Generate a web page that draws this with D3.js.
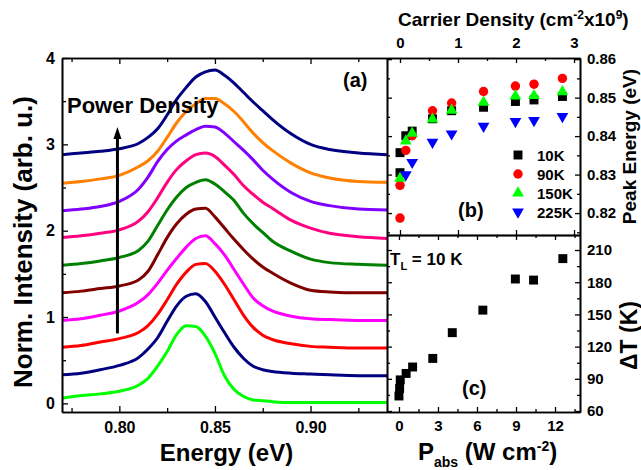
<!DOCTYPE html>
<html>
<head>
<meta charset="utf-8">
<script src="https://cdn.jsdelivr.net/npm/d3@7"></script>
<style>
  body { margin: 0; background: #fff; }
  svg text { font-family: "Liberation Sans", Arial, sans-serif; font-weight: bold; fill: #000; }
</style>
</head>
<body>
<div id="chart"></div>
<script>
// ---- panel (a): PL spectra, offset by power density ----
var energy = [0.770, 0.780, 0.790, 0.800, 0.810, 0.815, 0.820, 0.825, 0.830, 0.835, 0.840, 0.845,
              0.850, 0.855, 0.860, 0.865, 0.870, 0.875, 0.880, 0.890, 0.900, 0.910, 0.925, 0.940];

var spec01 = [0.06, 0.09, 0.11, 0.14, 0.21, 0.29, 0.43, 0.60, 0.80, 0.90, 0.89, 0.78, 0.58, 0.32, 0.16, 0.08, 0.04, 0.03, 0.02, 0.01, 0.01, 0.01, 0.01, 0.01];
var spec02 = [0.33, 0.35, 0.39, 0.44, 0.53, 0.63, 0.76, 0.95, 1.13, 1.24, 1.27, 1.18, 1.00, 0.82, 0.65, 0.52, 0.43, 0.39, 0.37, 0.35, 0.34, 0.33, 0.32, 0.32];
var spec03 = [0.65, 0.67, 0.71, 0.75, 0.82, 0.90, 1.03, 1.20, 1.38, 1.52, 1.61, 1.62, 1.53, 1.38, 1.20, 1.02, 0.88, 0.79, 0.74, 0.69, 0.66, 0.65, 0.64, 0.64];
var spec04 = [0.96, 0.98, 1.02, 1.07, 1.17, 1.26, 1.39, 1.54, 1.68, 1.81, 1.91, 1.94, 1.85, 1.72, 1.55, 1.38, 1.22, 1.13, 1.07, 1.01, 0.98, 0.97, 0.96, 0.96];
var spec05 = [1.28, 1.30, 1.33, 1.36, 1.43, 1.53, 1.72, 1.92, 2.08, 2.19, 2.25, 2.26, 2.16, 2.03, 1.90, 1.78, 1.67, 1.58, 1.51, 1.39, 1.31, 1.29, 1.28, 1.28];
var spec06 = [1.60, 1.62, 1.65, 1.69, 1.77, 1.88, 2.06, 2.24, 2.39, 2.50, 2.56, 2.59, 2.54, 2.45, 2.35, 2.20, 2.08, 1.98, 1.88, 1.76, 1.67, 1.63, 1.61, 1.60];
var spec07 = [1.92, 1.94, 1.97, 2.01, 2.11, 2.22, 2.38, 2.56, 2.71, 2.81, 2.88, 2.90, 2.86, 2.76, 2.65, 2.52, 2.42, 2.33, 2.26, 2.12, 2.03, 1.97, 1.93, 1.91];
var spec08 = [2.23, 2.25, 2.28, 2.34, 2.48, 2.62, 2.80, 2.94, 3.04, 3.11, 3.17, 3.21, 3.20, 3.13, 3.03, 2.93, 2.82, 2.70, 2.60, 2.44, 2.34, 2.29, 2.25, 2.24];
var spec09 = [2.55, 2.57, 2.60, 2.64, 2.74, 2.81, 2.92, 3.08, 3.25, 3.38, 3.47, 3.53, 3.53, 3.47, 3.38, 3.26, 3.13, 3.02, 2.93, 2.78, 2.67, 2.61, 2.57, 2.56];
var spec10 = [2.88, 2.90, 2.92, 2.95, 3.01, 3.08, 3.18, 3.34, 3.52, 3.66, 3.78, 3.84, 3.86, 3.80, 3.71, 3.60, 3.49, 3.39, 3.29, 3.12, 3.00, 2.94, 2.90, 2.88];

var spectra = [spec01, spec02, spec03, spec04, spec05, spec06, spec07, spec08, spec09, spec10];
var specColors = ['#00ff00', '#000080', '#ff0000', '#ff00ff', '#800000',
                  '#008000', '#ff0080', '#8000ff', '#ff8000', '#000080'];

// arrow "Power Density": energy position, from / to intensity
var arrowE = 0.799, arrowFrom = 0.81, arrowTo = 3.20;

// ---- panel (b): peak energy vs carrier density ----
var cd10K  = [0.00, 0.00, 0.10, 0.21, 0.56, 0.89, 1.44, 1.99, 2.31, 2.80];
var pe10K  = [0.8305, 0.8357, 0.8401, 0.8413, 0.8445, 0.8466, 0.8475, 0.8490, 0.8494, 0.8503];
var cd90K  = [0.00, 0.00, 0.10, 0.21, 0.56, 0.89, 1.44, 1.99, 2.31, 2.80];
var pe90K  = [0.8187, 0.8272, 0.8363, 0.8401, 0.8466, 0.8486, 0.8516, 0.8530, 0.8535, 0.8550];
var cd150K = [0.00, 0.10, 0.21, 0.56, 0.89, 1.44, 1.99, 2.31, 2.80];
var pe150K = [0.8290, 0.8387, 0.8407, 0.8444, 0.8467, 0.8488, 0.8504, 0.8505, 0.8515];
var cd225K = [0.10, 0.21, 0.56, 0.89, 1.44, 1.99, 2.31, 2.80];
var pe225K = [0.8300, 0.8332, 0.8384, 0.8406, 0.8426, 0.8438, 0.8441, 0.8451];
var tempLabels = ['10K', '90K', '150K', '225K'];

// ---- panel (c): temperature rise vs absorbed power ----
var pAbs   = [0.00, 0.05, 0.10, 0.55, 1.05, 2.60, 4.10, 6.45, 8.95, 10.35, 12.60];
var deltaT = [74, 81, 89, 95, 101, 109, 133, 154, 183, 182, 202];

var width = 641, height = 470;

var svg = d3.select('#chart').append('svg')
    .attr('width', width)
    .attr('height', height);

// panel boxes
var boxA = {l: 62, r: 387, t: 58, b: 412},
    boxB = {l: 387, r: 580, t: 58, b: 235},
    boxC = {l: 387, r: 580, t: 235, b: 412};

var xA = d3.scaleLinear().domain([0.77, 0.94]).range([boxA.l, boxA.r]),
    yA = d3.scaleLinear().domain([-0.1, 4.0]).range([boxA.b, boxA.t]);

var xB = d3.scaleLinear().domain([-0.224, 3.103]).range([boxB.l, boxB.r]),
    yB = d3.scaleLinear().domain([0.8143, 0.8603]).range([boxB.b, boxB.t]);

var xC = d3.scaleLinear().domain([-0.92, 13.92]).range([boxC.l, boxC.r]),
    yC = d3.scaleLinear().domain([59.07, 224]).range([boxC.b, boxC.t]);

// draws an axis, styles it
var drawAxis = function (gen, tx, ty, fontSize) {
    var g = svg.append('g')
        .attr('transform', 'translate(' + tx + ',' + ty + ')')
        .call(gen);
    g.select('.domain').attr('stroke', '#000').attr('stroke-width', 1.6);
    g.selectAll('.tick line').attr('stroke', '#000').attr('stroke-width', 1.3);
    g.selectAll('.tick text')
        .attr('fill', '#000')
        .style('font-size', (fontSize || 15) + 'px')
        .style('font-family', '"Liberation Sans", Arial, sans-serif')
        .style('font-weight', 'bold');
    return g;
};
var noLab = function () { return ''; };

// ---- panel (a) curves ----
svg.append('defs').append('clipPath').attr('id', 'clipA')
    .append('rect')
    .attr('x', boxA.l).attr('y', boxA.t)
    .attr('width', boxA.r - boxA.l).attr('height', boxA.b - boxA.t);

var line = d3.line()
    .x(function (d, i) { return xA(energy[i]); })
    .y(function (d) { return yA(d); })
    .curve(d3.curveMonotoneX);

svg.append('g').attr('clip-path', 'url(#clipA)')
    .selectAll('path')
    .data(spectra)
    .enter()
    .append('path')
    .attr('d', line)
    .attr('fill', 'none')
    .attr('stroke', function (d, i) { return specColors[i]; })
    .attr('stroke-width', 3);

// arrow
svg.append('line')
    .attr('x1', xA(arrowE)).attr('x2', xA(arrowE))
    .attr('y1', yA(arrowFrom)).attr('y2', yA(arrowTo) + 10)
    .attr('stroke', '#000').attr('stroke-width', 3);
svg.append('path')
    .attr('d', 'M' + (xA(arrowE) - 4) + ',' + (yA(arrowTo) + 12) + ' L' + xA(arrowE) + ',' + yA(arrowTo) +
        ' L' + (xA(arrowE) + 4) + ',' + (yA(arrowTo) + 12) + ' Z')
    .attr('fill', '#000');

svg.append('text').attr('x', 67).attr('y', 113).style('font-size', '22px').text('Power Density');
svg.append('text').attr('x', 343).attr('y', 87).style('font-size', '20px').text('(a)');

// axes (a)
drawAxis(d3.axisBottom(xA).tickValues([0.80, 0.85, 0.90]).tickFormat(d3.format('.2f'))
    .tickSize(-6).tickSizeOuter(0).tickPadding(9.5), 0, boxA.b, 16);
drawAxis(d3.axisBottom(xA).tickValues([0.775, 0.825, 0.875, 0.925]).tickFormat(noLab)
    .tickSize(-4).tickSizeOuter(0), 0, boxA.b);
drawAxis(d3.axisTop(xA).tickValues([0.80, 0.85, 0.90]).tickFormat(noLab)
    .tickSize(-6).tickSizeOuter(0), 0, boxA.t);
drawAxis(d3.axisTop(xA).tickValues([0.775, 0.825, 0.875, 0.925]).tickFormat(noLab)
    .tickSize(-4).tickSizeOuter(0), 0, boxA.t);
drawAxis(d3.axisLeft(yA).tickValues([0, 1, 2, 3, 4]).tickFormat(d3.format('d'))
    .tickSize(-6).tickSizeOuter(0).tickPadding(7), boxA.l, 0, 16);
drawAxis(d3.axisLeft(yA).tickValues([0.5, 1.5, 2.5, 3.5]).tickFormat(noLab)
    .tickSize(-4).tickSizeOuter(0), boxA.l, 0);

svg.append('text')
    .attr('transform', 'translate(32,242) rotate(-90)')
    .attr('text-anchor', 'middle')
    .style('font-size', '26px')
    .text('Norm. Intensity (arb. u.)');

svg.append('text')
    .attr('x', (boxA.l + boxA.r) / 2 + 2).attr('y', 461)
    .attr('text-anchor', 'middle')
    .style('font-size', '24px')
    .text('Energy (eV)');

// ---- panel (b) ----
var shapes = [d3.symbolSquare, d3.symbolCircle, d3.symbolTriangle, d3.symbolTriangle],
    shapeSize = [80, 70, 60, 60],
    shapeColor = ['#000000', '#ff0000', '#00ff00', '#0000ff'],
    shapeRot = [0, 0, 0, 180];

var seriesB = [
    {x: cd10K, y: pe10K},
    {x: cd90K, y: pe90K},
    {x: cd150K, y: pe150K},
    {x: cd225K, y: pe225K}
];

seriesB.forEach(function (s, k) {
    svg.append('g').selectAll('path')
        .data(s.x)
        .enter()
        .append('path')
        .attr('d', d3.symbol().type(shapes[k]).size(shapeSize[k]))
        .attr('transform', function (d, i) {
            return 'translate(' + xB(d) + ',' + yB(s.y[i]) + ') rotate(' + shapeRot[k] + ')';
        })
        .attr('fill', shapeColor[k]);
});

// legend (b)
tempLabels.forEach(function (t, k) {
    var ly = 155 + k * 19;
    svg.append('path')
        .attr('d', d3.symbol().type(shapes[k]).size(shapeSize[k])())
        .attr('transform', 'translate(518,' + ly + ') rotate(' + shapeRot[k] + ')')
        .attr('fill', shapeColor[k]);
    svg.append('text').attr('x', 537).attr('y', ly + 5.5).style('font-size', '15px').text(t);
});

svg.append('text').attr('x', 458).attr('y', 217).style('font-size', '20px').text('(b)');

drawAxis(d3.axisTop(xB).tickValues([0, 1, 2, 3]).tickFormat(d3.format('d'))
    .tickSize(-5).tickSizeOuter(0).tickPadding(10), 0, boxB.t, 15);
drawAxis(d3.axisTop(xB).tickValues([0.5, 1.5, 2.5]).tickFormat(noLab)
    .tickSize(-3).tickSizeOuter(0), 0, boxB.t);
drawAxis(d3.axisBottom(xB).tickValues([0, 1, 2, 3]).tickFormat(noLab)
    .tickSize(-5).tickSizeOuter(0), 0, boxB.b);
drawAxis(d3.axisRight(yB).tickValues([0.82, 0.83, 0.84, 0.85, 0.86]).tickFormat(d3.format('.2f'))
    .tickSize(-5).tickSizeOuter(0).tickPadding(7), boxB.r, 0, 15);
drawAxis(d3.axisRight(yB).tickValues([0.815, 0.825, 0.835, 0.845, 0.855]).tickFormat(noLab)
    .tickSize(-3).tickSizeOuter(0), boxB.r, 0);
drawAxis(d3.axisLeft(yB).tickValues([0.82, 0.83, 0.84, 0.85, 0.86]).tickFormat(noLab)
    .tickSize(-5).tickSizeOuter(0), boxB.l, 0);
drawAxis(d3.axisLeft(yB).tickValues([0.815, 0.825, 0.835, 0.845, 0.855]).tickFormat(noLab)
    .tickSize(-3).tickSizeOuter(0), boxB.l, 0);

var cdTitle = svg.append('text').attr('x', 398).attr('y', 26).style('font-size', '19px');
cdTitle.append('tspan').text('Carrier Density (cm');
cdTitle.append('tspan').attr('dy', -7).style('font-size', '12px').text('-2');
cdTitle.append('tspan').attr('dy', 7).text('x10');
cdTitle.append('tspan').attr('dy', -7).style('font-size', '12px').text('9');
cdTitle.append('tspan').attr('dy', 7).text(')');

svg.append('text')
    .attr('transform', 'translate(636,' + ((boxB.t + boxB.b) / 2) + ') rotate(-90)')
    .attr('text-anchor', 'middle')
    .style('font-size', '19px')
    .text('Peak Energy (eV)');

// ---- panel (c) ----
svg.append('g').selectAll('path')
    .data(pAbs)
    .enter()
    .append('path')
    .attr('d', d3.symbol().type(d3.symbolSquare).size(80))
    .attr('transform', function (d, i) { return 'translate(' + xC(d) + ',' + yC(deltaT[i]) + ')'; })
    .attr('fill', '#000');

var tl = svg.append('text').attr('x', 390).attr('y', 265).style('font-size', '17px');
tl.append('tspan').text('T');
tl.append('tspan').attr('dy', 5).style('font-size', '11px').text('L');
tl.append('tspan').attr('dy', -5).text(' = 10 K');

svg.append('text').attr('x', 462).attr('y', 395).style('font-size', '20px').text('(c)');

drawAxis(d3.axisBottom(xC).tickValues([0, 3, 6, 9, 12]).tickFormat(d3.format('d'))
    .tickSize(-5).tickSizeOuter(0).tickPadding(8.5), 0, boxC.b, 15);
drawAxis(d3.axisBottom(xC).tickValues([1.5, 4.5, 7.5, 10.5, 13.5]).tickFormat(noLab)
    .tickSize(-3).tickSizeOuter(0), 0, boxC.b);
drawAxis(d3.axisTop(xC).tickValues([0, 3, 6, 9, 12]).tickFormat(noLab)
    .tickSize(-5).tickSizeOuter(0), 0, boxC.t);
drawAxis(d3.axisTop(xC).tickValues([1.5, 4.5, 7.5, 10.5, 13.5]).tickFormat(noLab)
    .tickSize(-3).tickSizeOuter(0), 0, boxC.t);
drawAxis(d3.axisRight(yC).tickValues([60, 90, 120, 150, 180, 210]).tickFormat(d3.format('d'))
    .tickSize(-5).tickSizeOuter(0).tickPadding(7), boxC.r, 0, 15);
drawAxis(d3.axisRight(yC).tickValues([75, 105, 135, 165, 195]).tickFormat(noLab)
    .tickSize(-3).tickSizeOuter(0), boxC.r, 0);
drawAxis(d3.axisLeft(yC).tickValues([60, 90, 120, 150, 180, 210]).tickFormat(noLab)
    .tickSize(-5).tickSizeOuter(0), boxC.l, 0);
drawAxis(d3.axisLeft(yC).tickValues([75, 105, 135, 165, 195]).tickFormat(noLab)
    .tickSize(-3).tickSizeOuter(0), boxC.l, 0);

svg.append('text')
    .attr('transform', 'translate(637,' + ((boxC.t + boxC.b) / 2 + 12) + ') rotate(-90)')
    .attr('text-anchor', 'middle')
    .style('font-size', '23px')
    .text('\u0394T (K)');

var pt = svg.append('text').attr('x', 418).attr('y', 460).style('font-size', '24px');
pt.append('tspan').text('P');
pt.append('tspan').attr('dy', 7).style('font-size', '14px').text('abs');
pt.append('tspan').attr('dy', -7).text(' (W cm');
pt.append('tspan').attr('dy', -9).style('font-size', '14px').text('-2');
pt.append('tspan').attr('dy', 9).text(')');
</script>
</body>
</html>
